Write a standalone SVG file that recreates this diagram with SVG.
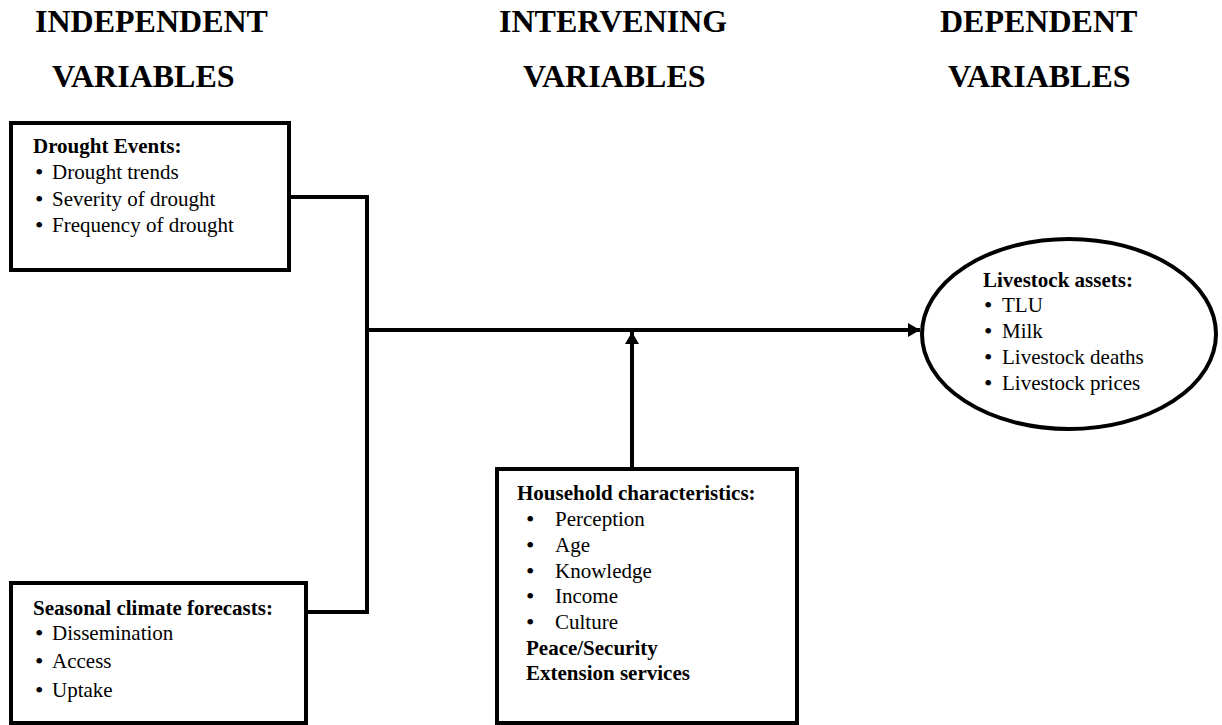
<svg xmlns="http://www.w3.org/2000/svg" width="1222" height="725" viewBox="0 0 1222 725">
  <style>
    .hdr { font-family: "Liberation Serif", "Times New Roman", serif; font-weight: bold; font-size: 32px; fill: #000; }
    .t { font-family: "Liberation Serif", "Times New Roman", serif; font-size: 21px; fill: #000; }
    .b { font-weight: bold; }
    .box { fill: #fff; stroke: #000; stroke-width: 4; }
    .line { fill: none; stroke: #000; stroke-width: 4; }
    .bul { font-size: 24px; }
  </style>
  <defs>
    <marker id="arrow" markerWidth="12" markerHeight="14" refX="12" refY="7" orient="auto" markerUnits="userSpaceOnUse">
      <path d="M0,0 L12,7 L0,14 Z" fill="#000"/>
    </marker>
  </defs>
  <rect width="1222" height="725" fill="#fff"/>

  <g id="headers">
    <text class="hdr" x="35" y="32">INDEPENDENT</text>
    <text class="hdr" x="52" y="87">VARIABLES</text>
    <text class="hdr" x="499" y="32">INTERVENING</text>
    <text class="hdr" x="523" y="87">VARIABLES</text>
    <text class="hdr" x="940" y="32">DEPENDENT</text>
    <text class="hdr" x="948" y="87">VARIABLES</text>
  </g>

  <g id="connectors">
    <polyline class="line" points="289,197 367,197 367,612 307,612"/>
    <line class="line" x1="365" y1="330" x2="920" y2="330" marker-end="url(#arrow)"/>
    <line class="line" x1="632" y1="467" x2="632" y2="332" marker-end="url(#arrow)"/>
  </g>

  <g id="drought">
    <rect class="box" x="11" y="123" width="278" height="147"/>
    <text class="t b" x="33" y="153">Drought Events:</text>
    <text class="t" y="179"><tspan class="bul" x="35" dy="1">•</tspan><tspan x="52" dy="-1">Drought trends</tspan></text>
    <text class="t" y="206"><tspan class="bul" x="35" dy="1">•</tspan><tspan x="52" dy="-1">Severity of drought</tspan></text>
    <text class="t" y="232"><tspan class="bul" x="35" dy="1">•</tspan><tspan x="52" dy="-1">Frequency of drought</tspan></text>
  </g>

  <g id="seasonal">
    <rect class="box" x="11" y="583" width="295" height="140"/>
    <text class="t b" x="33" y="615">Seasonal climate forecasts:</text>
    <text class="t" y="640"><tspan class="bul" x="35" dy="1">•</tspan><tspan x="52" dy="-1">Dissemination</tspan></text>
    <text class="t" y="668"><tspan class="bul" x="35" dy="1">•</tspan><tspan x="52" dy="-1">Access</tspan></text>
    <text class="t" y="697"><tspan class="bul" x="35" dy="1">•</tspan><tspan x="52" dy="-1">Uptake</tspan></text>
  </g>

  <g id="household">
    <rect class="box" x="497" y="469" width="300" height="254"/>
    <text class="t b" x="517" y="500">Household characteristics:</text>
    <text class="t" y="526"><tspan class="bul" x="526" dy="1">•</tspan><tspan x="555" dy="-1">Perception</tspan></text>
    <text class="t" y="552"><tspan class="bul" x="526" dy="1">•</tspan><tspan x="555" dy="-1">Age</tspan></text>
    <text class="t" y="578"><tspan class="bul" x="526" dy="1">•</tspan><tspan x="555" dy="-1">Knowledge</tspan></text>
    <text class="t" y="603"><tspan class="bul" x="526" dy="1">•</tspan><tspan x="555" dy="-1">Income</tspan></text>
    <text class="t" y="629"><tspan class="bul" x="526" dy="1">•</tspan><tspan x="555" dy="-1">Culture</tspan></text>
    <text class="t b" x="526" y="655">Peace/Security</text>
    <text class="t b" x="526" y="680">Extension services</text>
  </g>

  <g id="livestock">
    <ellipse class="box" cx="1069" cy="334" rx="147" ry="95"/>
    <text class="t b" x="983" y="287">Livestock assets:</text>
    <text class="t" y="312"><tspan class="bul" x="984" dy="1">•</tspan><tspan x="1002" dy="-1">TLU</tspan></text>
    <text class="t" y="338"><tspan class="bul" x="984" dy="1">•</tspan><tspan x="1002" dy="-1">Milk</tspan></text>
    <text class="t" y="364"><tspan class="bul" x="984" dy="1">•</tspan><tspan x="1002" dy="-1">Livestock deaths</tspan></text>
    <text class="t" y="390"><tspan class="bul" x="984" dy="1">•</tspan><tspan x="1002" dy="-1">Livestock prices</tspan></text>
  </g>
</svg>
